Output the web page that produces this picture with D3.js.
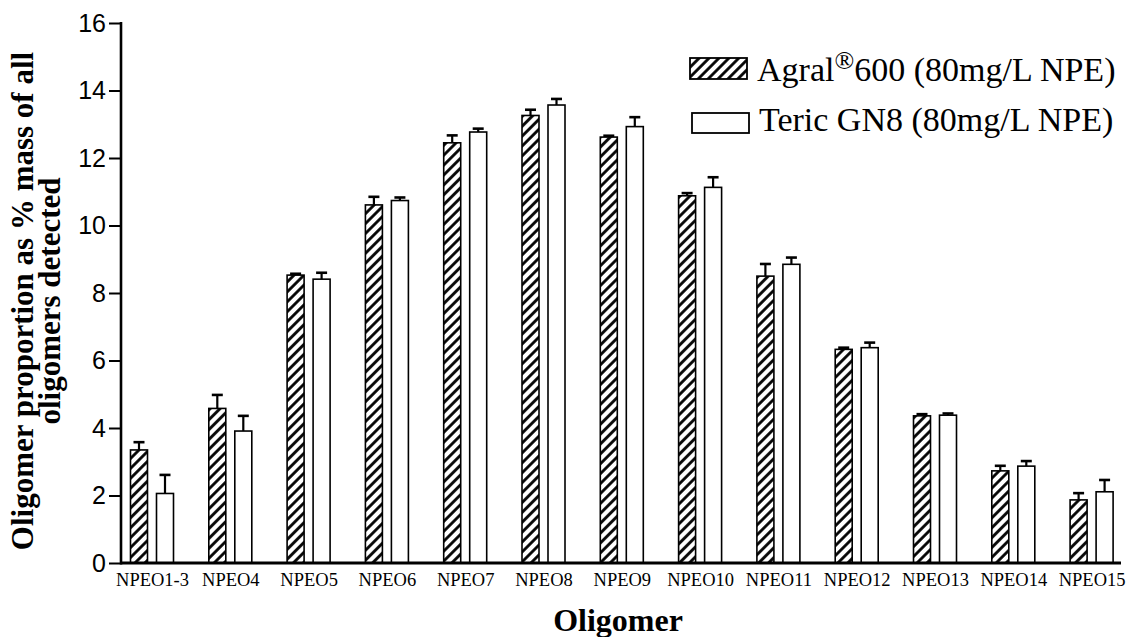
<!DOCTYPE html>
<html>
<head>
<meta charset="utf-8">
<script src="https://cdn.jsdelivr.net/npm/d3@7/dist/d3.min.js"></script>
<style>
  html, body { margin: 0; padding: 0; background: #fff; }
  svg { display: block; }
</style>
</head>
<body>
<svg id="chart" width="1128" height="637"></svg>
<script>
// Oligomer distribution of two NPE surfactant formulations
const categories = ["NPEO1-3", "NPEO4", "NPEO5", "NPEO6", "NPEO7", "NPEO8", "NPEO9",
                    "NPEO10", "NPEO11", "NPEO12", "NPEO13", "NPEO14", "NPEO15"];
const agralMean = [3.35, 4.58, 8.53, 10.61, 12.45, 13.26, 12.62, 10.88, 8.50, 6.33, 4.36, 2.73, 1.87];
const agralErr  = [0.23, 0.40, 0.04, 0.24, 0.22, 0.17, 0.04, 0.08, 0.36, 0.05, 0.05, 0.15, 0.20];
const tericMean = [2.06, 3.91, 8.41, 10.74, 12.77, 13.57, 12.93, 11.13, 8.85, 6.38, 4.38, 2.87, 2.11];
const tericErr  = [0.55, 0.45, 0.19, 0.09, 0.10, 0.18, 0.28, 0.30, 0.20, 0.15, 0.05, 0.15, 0.35];
const yTicks = [0, 2, 4, 6, 8, 10, 12, 14, 16];
const seriesNames = ["Agral", "Teric GN8 (80mg/L NPE)"];

const serif = "'Liberation Serif', 'Times New Roman', serif";
const sans = "'Liberation Sans', Arial, sans-serif";

const svg = d3.select("#chart");

// hatch fill for the first series
const defs = svg.append("defs");
const pat = defs.append("pattern")
  .attr("id", "hatch")
  .attr("patternUnits", "userSpaceOnUse")
  .attr("width", 7).attr("height", 7)
  .attr("patternTransform", "rotate(45)");
pat.append("rect").attr("width", 7).attr("height", 7).attr("fill", "#fff");
pat.append("line")
  .attr("x1", 3.5).attr("y1", 0).attr("x2", 3.5).attr("y2", 7)
  .attr("stroke", "#000").attr("stroke-width", 2.8);

const axisLeft = 121, axisRight = 1121;
const y = d3.scaleLinear().domain([0, 16]).range([563, 23]);
const x = d3.scalePoint().domain(categories).range([152, 1091.6]);
const barW = 17, gap = 9;

function drawSeries(means, errs, offset, fill) {
  const g = svg.append("g");
  g.selectAll("line.err")
    .data(categories)
    .join("line")
    .attr("x1", d => x(d) + offset + barW / 2)
    .attr("x2", d => x(d) + offset + barW / 2)
    .attr("y1", (d, i) => y(means[i]))
    .attr("y2", (d, i) => y(means[i] + errs[i]))
    .attr("stroke", "#000").attr("stroke-width", 2.2);
  g.selectAll("line.cap")
    .data(categories)
    .join("line")
    .attr("x1", d => x(d) + offset + barW / 2 - 5.5)
    .attr("x2", d => x(d) + offset + barW / 2 + 5.5)
    .attr("y1", (d, i) => y(means[i] + errs[i]))
    .attr("y2", (d, i) => y(means[i] + errs[i]))
    .attr("stroke", "#000").attr("stroke-width", 2.6);
  g.selectAll("rect")
    .data(categories)
    .join("rect")
    .attr("x", d => x(d) + offset)
    .attr("width", barW)
    .attr("y", (d, i) => y(means[i]))
    .attr("height", (d, i) => y(0) - y(means[i]))
    .attr("fill", fill)
    .attr("stroke", "#000").attr("stroke-width", 1.6);
}
drawSeries(agralMean, agralErr, -gap / 2 - barW, "url(#hatch)");
drawSeries(tericMean, tericErr, gap / 2, "#fff");

// y axis
const yAxis = d3.axisLeft(y).tickValues(yTicks).tickSize(12).tickPadding(3).tickFormat(d3.format("d"));
const ya = svg.append("g").attr("transform", `translate(${axisLeft},0)`).call(yAxis);
ya.select(".domain").remove();
ya.selectAll(".tick line").attr("stroke", "#000").attr("stroke-width", 2);
ya.selectAll(".tick text").attr("font-family", sans).attr("font-size", 25).attr("fill", "#000");
svg.append("line")
  .attr("x1", axisLeft).attr("x2", axisLeft)
  .attr("y1", y(16) - 1).attr("y2", y(0) + 1.5)
  .attr("stroke", "#000").attr("stroke-width", 2.6);

// x axis (no tick marks)
const xAxis = d3.axisBottom(x).tickSize(0).tickPadding(10);
const xa = svg.append("g").attr("transform", `translate(0,${y(0)})`).call(xAxis);
xa.select(".domain").remove();
xa.selectAll(".tick text").attr("font-family", serif).attr("font-size", 18.5).attr("fill", "#000");
svg.append("line")
  .attr("x1", axisLeft).attr("x2", axisRight)
  .attr("y1", y(0)).attr("y2", y(0))
  .attr("stroke", "#000").attr("stroke-width", 2.8);

// axis titles
svg.append("text")
  .attr("x", 618).attr("y", 631)
  .attr("text-anchor", "middle")
  .attr("font-family", serif).attr("font-weight", "bold").attr("font-size", 32)
  .text("Oligomer");

const yTitle = svg.append("text")
  .attr("transform", "translate(0,301) rotate(-90)")
  .attr("text-anchor", "middle")
  .attr("font-family", serif).attr("font-weight", "bold").attr("font-size", 31);
yTitle.append("tspan").attr("x", 0).attr("y", 33).text("Oligomer proportion as % mass of all");
yTitle.append("tspan").attr("x", 0).attr("y", 60).text("oligomers detected");

// legend
const legend = svg.append("g");
legend.append("rect")
  .attr("x", 690).attr("y", 58).attr("width", 57).attr("height", 21)
  .attr("fill", "url(#hatch)").attr("stroke", "#000").attr("stroke-width", 1.8);
const t1 = legend.append("text")
  .attr("x", 757).attr("y", 81)
  .attr("font-family", serif).attr("font-size", 34).attr("fill", "#000");
t1.append("tspan").text(seriesNames[0]);
t1.append("tspan").attr("font-size", 26).attr("dy", -12).text("®");
t1.append("tspan").attr("dy", 12).text("600 (80mg/L NPE)");

legend.append("rect")
  .attr("x", 692).attr("y", 113).attr("width", 57).attr("height", 20)
  .attr("fill", "#fff").attr("stroke", "#000").attr("stroke-width", 1.8);
legend.append("text")
  .attr("x", 759).attr("y", 131)
  .attr("font-family", serif).attr("font-size", 34).attr("fill", "#000")
  .text(seriesNames[1]);
</script>
</body>
</html>
